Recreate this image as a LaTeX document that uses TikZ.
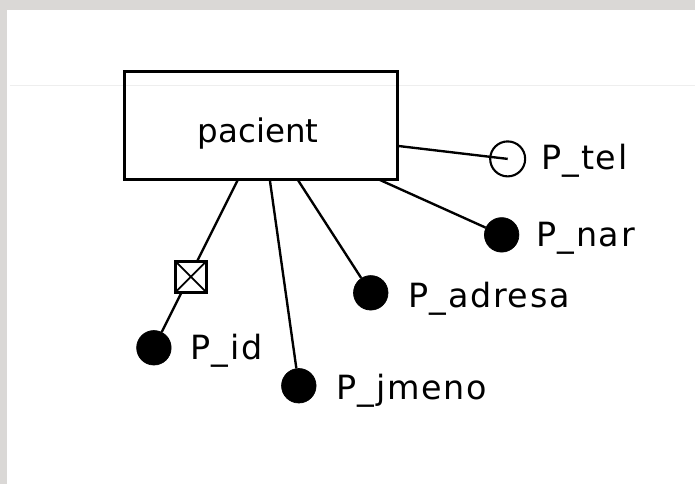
\documentclass[tikz,border=0pt]{standalone}
\usepackage{fontspec}
\setmainfont{DejaVu Sans}
\newfontfamily\spacedfont[LetterSpace=5]{DejaVu Sans}
\usepackage{xcolor}
\definecolor{PaperGrey}{RGB}{218, 216, 214}
\definecolor{RuleGrey}{RGB}{238, 238, 238}
\usepackage{tikz}
\usetikzlibrary{positioning}

\begin{document}
\begin{tikzpicture}[
  x=0.2mm, y=-0.2mm,
  entity/.style={rectangle, draw=black, line width=1.7pt, fill=none,
    minimum width=5.46cm, minimum height=2.16cm, inner sep=0pt},
  attrib/.style={circle, fill=black, draw=black, minimum size=0.69cm, inner sep=0pt},
  optattrib/.style={circle, fill=none, draw=black, line width=1.2pt,
    minimum size=0.70cm, inner sep=0pt},
  keybox/.style={rectangle, draw=black, fill=white, line width=1.6pt,
    minimum size=0.62cm, inner sep=0pt,
    path picture={\draw[line width=1pt] (path picture bounding box.south west) -- (path picture bounding box.north east)
      (path picture bounding box.north west) -- (path picture bounding box.south east);}},
  attrtext/.style={font=\spacedfont\fontsize{19}{22}\selectfont, inner sep=0pt, anchor=base west},
  entitytext/.style={font=\fontsize{18.5}{22}\selectfont, inner sep=0pt, anchor=base},
  link/.style={line width=1.35pt, color=black}
]
  % page and paper edge
  \fill[white] (0,0) rectangle (695,484);
  \fill[PaperGrey] (0,0) rectangle (695,10);
  \fill[PaperGrey] (0,0) rectangle (7,484);
  \draw[RuleGrey, line width=0.5pt] (10,85) -- (695,85);
  \useasboundingbox (0,0) rectangle (695,484);

  \node[entity] (pacient) at (261.5,126) {};
  \node[entitytext] (pacientname) at (258.5,143) {pacient};

  \node[optattrib] (tel)    at (508,159) {};
  \node[attrib]    (nar)    at (502,235) {};
  \node[attrib]    (adresa) at (371,293) {};
  \node[attrib]    (id)     at (154,348) {};
  \node[attrib]    (jmeno)  at (299,386) {};

  \coordinate (telfoot)    at (398,146);
  \coordinate (narfoot)    at (380,180);
  \coordinate (adresafoot) at (298,180);
  \coordinate (jmenofoot)  at (270,180);
  \coordinate (idfoot)     at (238,180);

  \draw[link] (telfoot) -- (tel.center);
  \draw[link] (narfoot) -- (nar);
  \draw[link] (adresafoot) -- (adresa);
  \draw[link] (jmenofoot) -- (jmeno);
  \draw[link] (idfoot) -- (id);

  % identifier marker sits on the P_id link
  \node[keybox] (idkey) at (191,277) {};

  \node[attrtext] (tellabel)    at (541,170) {P\_tel};
  \node[attrtext] (narlabel)    at (536,247) {P\_nar};
  \node[attrtext] (adresalabel) at (408,308) {P\_adresa};
  \node[attrtext] (idlabel)     at (190,360) {P\_id};
  \node[attrtext] (jmenolabel)  at (336,400) {P\_jmeno};
\end{tikzpicture}
\end{document}
